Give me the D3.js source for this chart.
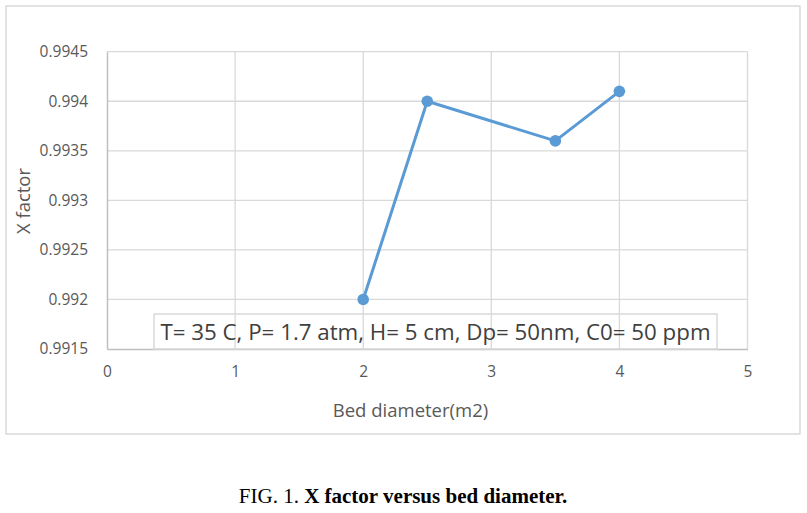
<!DOCTYPE html>
<html><head><meta charset="utf-8">
<script src="https://cdn.jsdelivr.net/npm/d3@7"></script>
<style>body{margin:0;background:#fff;}</style>
</head><body>
<svg id="c" width="807" height="513"></svg>
<script>
const xValues = [2, 2.5, 3.5, 4];
const yValues = [0.992, 0.994, 0.9936, 0.9941];
const xTicks = [0, 1, 2, 3, 4, 5];
const yTicks = [0.9915, 0.992, 0.9925, 0.993, 0.9935, 0.994, 0.9945];
const annotation = "T= 35 C, P= 1.7 atm, H= 5 cm, Dp= 50nm, C0= 50 ppm";
const xTitle = "Bed diameter(m2)";
const yTitle = "X factor";

const svg = d3.select("#c");
const font = "'Open Sans', 'Liberation Sans', sans-serif";
// outer chart frame
svg.append("rect").attr("x",6).attr("y",6).attr("width",794).attr("height",428)
  .attr("fill","#fff").attr("stroke","#d9d9d9").attr("stroke-width",1.5);

const x = d3.scaleLinear().domain([0,5]).range([107,747.5]);
const y = d3.scaleLinear().domain([0.9915,0.9945]).range([349,51.7]);

// gridlines
svg.append("g").selectAll("line").data(yTicks.slice(1)).join("line")
  .attr("x1",x(0)).attr("x2",x(5)).attr("y1",d=>y(d)).attr("y2",d=>y(d))
  .attr("stroke","#d9d9d9").attr("stroke-width",1.3);
svg.append("g").selectAll("line").data(xTicks.slice(1)).join("line")
  .attr("x1",d=>x(d)).attr("x2",d=>x(d)).attr("y1",y(0.9915)).attr("y2",y(0.9945))
  .attr("stroke","#d9d9d9").attr("stroke-width",1.3);

// axes
const xAxis = svg.append("g").attr("transform",`translate(0,${y(0.9915)})`)
  .call(d3.axisBottom(x).tickValues(xTicks).tickSize(0).tickPadding(17).tickFormat(d3.format("d")));
const yAxis = svg.append("g").attr("transform",`translate(${x(0)},0)`)
  .call(d3.axisLeft(y).tickValues(yTicks).tickSize(0).tickPadding(19).tickFormat(d=>String(+d.toFixed(4))));
[xAxis,yAxis].forEach(a=>{
  a.select(".domain").attr("stroke","#bfbfbf").attr("stroke-width",1.5);
  a.selectAll("text").attr("fill","#595959").style("font-family",font).style("font-size","15.5px");
});

// annotation box
const ann = svg.append("g");
ann.append("rect").attr("x",154).attr("y",314).attr("width",563).attr("height",35)
  .attr("fill","none").attr("stroke","#d9d9d9").attr("stroke-width",1.5);
ann.append("text").attr("x",435.5).attr("y",339.5).attr("text-anchor","middle")
  .attr("fill","#404040").style("font-family",font).style("font-size","22.3px").text(annotation);

// line and markers
const pts = xValues.map((v,i)=>[v,yValues[i]]);
svg.append("path").datum(pts)
  .attr("d",d3.line().x(d=>x(d[0])).y(d=>y(d[1])))
  .attr("fill","none").attr("stroke","#5b9bd5").attr("stroke-width",3).attr("stroke-linejoin","round");
svg.append("g").selectAll("circle").data(pts).join("circle")
  .attr("cx",d=>x(d[0])).attr("cy",d=>y(d[1])).attr("r",5.8).attr("fill","#5b9bd5");

// axis titles
svg.append("text").attr("x",410.5).attr("y",416.5).attr("text-anchor","middle")
  .attr("fill","#595959").style("font-family",font).style("font-size","18.5px").text(xTitle);
svg.append("text").attr("transform","translate(30,201) rotate(-90)").attr("text-anchor","middle")
  .attr("fill","#595959").style("font-family",font).style("font-size","18.5px").text(yTitle);

// caption
const cap = svg.append("text").attr("x",403).attr("y",503).attr("text-anchor","middle")
  .style("font-family","'Liberation Serif', 'Times New Roman', serif").style("font-size","21px").attr("fill","#000");
cap.append("tspan").text("FIG. 1. ");
cap.append("tspan").attr("font-weight","bold").text("X factor versus bed diameter.");
</script>
</body></html>
